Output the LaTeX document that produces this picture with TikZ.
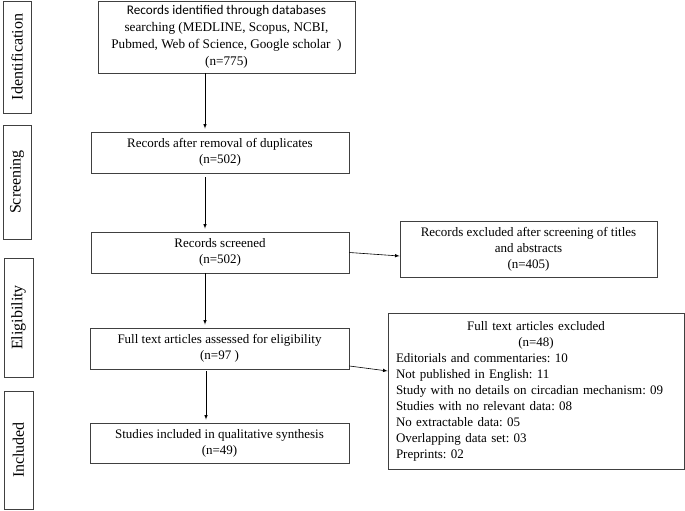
\documentclass[tikz,border=0pt]{standalone}
\usepackage{fontspec}
\setmainfont{Liberation Serif}
\newfontfamily\calibrifont{Carlito}
\usetikzlibrary{arrows}
\frenchspacing

\begin{document}
\begin{tikzpicture}[x=1pt,y=-1pt]
      \tikzstyle{box} = [rectangle, draw=black!75, line width=0.8pt, align=center, inner sep=2pt, font=\fontsize{13}{16}\selectfont]
      \tikzstyle{side} = [rectangle, draw=black!75, line width=0.8pt, rotate=90, inner sep=0pt, font=\fontsize{16}{18}\selectfont]
      \tikzstyle{point} = [coordinate]
      \useasboundingbox (0,0) rectangle (685,511);
      % phase labels
      \node (ident) [side, minimum width=112pt, minimum height=28pt] at (17,57) {Identification};
      \node (screen) [side, minimum width=114pt, minimum height=28pt] at (17,182) {Screening};
      \node (elig) [side, minimum width=119pt, minimum height=29pt] at (18.5,317.5) {Eligibility};
      \node (incl) [side, minimum width=118pt, minimum height=29pt] at (18.5,450) {Included};
      % main column
      \node (found) [box, minimum width=257pt, minimum height=72pt, font=\fontsize{13.2}{17}\selectfont] at (226.5,37)
        {\calibrifont Records identified through databases\\ searching (MEDLINE, Scopus, NCBI,\\ Pubmed, Web of Science, Google scholar\ \ )\\ \rmfamily (n=775)};
      \node (dedup) [box, minimum width=258pt, minimum height=41pt] at (220,152.5) {Records after removal of duplicates\\(n=502)};
      \node (screened) [box, minimum width=258pt, minimum height=41pt] at (220,252.5) {Records screened\\(n=502)};
      \node (fulltext) [box, minimum width=259pt, minimum height=41pt] at (219.5,348.5) {Full text articles assessed for eligibility\\(n=97 )};
      \node (included) [box, minimum width=259pt, minimum height=40pt] at (219.5,443) {Studies included in qualitative synthesis\\(n=49)};
      % right column
      \node (excl1) [box, minimum width=257pt, minimum height=56pt] at (528.5,249) {Records excluded after screening of titles\\and abstracts\\(n=405)};
      \node (excl2) [box, minimum height=155pt, text width=280pt, align=left, inner sep=8pt] at (536,391.5)
        {{\centering Full text articles excluded\\(n=48)\par}
         Editorials and commentaries: 10\\
         Not published in English: 11\\
         Study with no details on circadian mechanism: 09\\
         Studies with no relevant data: 08\\
         No extractable data: 05\\
         Overlapping data set: 03\\
         Preprints: 02};
      \node (c1) [point] at (205,0) {};
      \node (c2) [point] at (206,0) {};
      \draw [semithick,-latex,shorten >=3pt] (found.south -| c1)--(dedup.north -| c1);
      \draw [semithick,-latex,shorten >=3pt,shorten <=4pt] (dedup.south -| c1)--(screened.north -| c1);
      \draw [semithick,-latex,shorten >=3pt] (screened.south -| c1)--(fulltext.north -| c1);
      \draw [semithick,-latex,shorten >=3pt,shorten <=2pt] (fulltext.south -| c2)--(included.north -| c2);
      \draw [semithick,-latex] (screened.east)--([yshift=-7pt]excl1.west);
      \draw [semithick,-latex] ([yshift=-17.5pt]fulltext.east)--([yshift=20.5pt]excl2.west);
\end{tikzpicture}
\end{document}
